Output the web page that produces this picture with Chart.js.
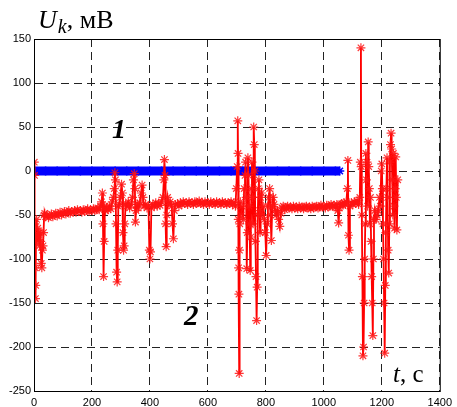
<!DOCTYPE html>
<html>
<head>
<meta charset="utf-8">
<script src="https://cdn.jsdelivr.net/npm/chart.js@4/dist/chart.umd.min.js"></script>
<style>
  body { margin: 0; background: #fff; }
  #wrap { position: relative; width: 457px; height: 407px; }
  .lbl { position: absolute; font-family: 'Liberation Serif', 'Times New Roman', serif; color: #000; line-height: 1; white-space: nowrap; }
  .num { font-weight: bold; font-style: italic; }
</style>
</head>
<body>
<div id="wrap">
  <canvas id="c" width="457" height="407"></canvas>
  <div class="lbl" style="left:38px; top:7px; font-size:26px;"><i>U</i><i style="font-size:20px; position:relative; top:5px; margin-left:1px;">k</i>, мВ</div>
  <div class="lbl" style="left:393px; top:361px; font-size:25px;"><i>t</i>, с</div>
  <div class="lbl num" style="left:112px; top:115px; font-size:28px;">1</div>
  <div class="lbl num" style="left:184px; top:301px; font-size:29px;">2</div>
</div>
<script>
// axis ranges and ticks
const xTicks = [0, 200, 400, 600, 800, 1000, 1200, 1400]
const yTicks = [-250, -200, -150, -100, -50, 0, 50, 100, 150]

// curve 1: flat trace near zero
const tBlue = [0, 40, 80, 120, 160, 200, 240, 280, 320, 360,
               400, 440, 480, 520, 560, 600, 640, 680, 720, 760,
               800, 840, 880, 920, 960, 1000, 1040, 1055]
const uBlue = [0, 0, 0, 0, 0, 0, 0, 0, 0, 0,
               0, 0, 0, 0, 0, 0, 0, 0, 0, 0,
               0, 0, 0, 0, 0, 0, 0, 0]

// curve 2: noisy trace, time in s
const tRed = [
  0, 1, 2, 3, 4, 5, 6, 7, 9, 11,
  13, 15, 17, 19, 21, 23, 25, 27, 29, 31,
  33, 35, 37,
  40, 45, 50, 55, 60, 65, 70, 75, 80, 85,
  90, 95, 100, 105, 110, 115, 120, 125, 130, 135,
  140, 145, 150, 155, 160, 165, 170, 175, 180, 185,
  190, 195, 200, 205, 210, 215, 220, 225, 230,
  233, 236, 238, 240, 242, 244, 247, 250, 255, 260,
  265, 270, 274, 277, 279, 281, 283, 285, 287, 289,
  291, 294, 298, 302, 305, 307, 309, 311, 313, 316,
  320, 325, 330, 335, 340, 343, 346, 348, 350, 352,
  356, 360, 365, 370, 373, 376, 380, 385, 390, 395,
  398, 400, 402, 405, 410, 415, 420, 425, 430, 435,
  440, 445, 448, 450, 452, 454, 456, 458, 461, 465,
  470, 475, 478, 481, 484, 488, 495,
  500, 505, 510, 515, 520, 525, 530, 535, 540, 545,
  550, 555, 560, 565, 570, 575, 580, 585, 590, 595,
  600, 605, 610, 615, 620, 625, 630, 635, 640, 645,
  650, 655, 660, 665, 670, 675, 680, 685, 690, 695,
  698, 701, 703, 704, 705, 706, 707, 708, 709, 710,
  712, 715, 718, 722, 725, 728, 730, 732, 734, 736,
  738, 740, 742, 744, 746, 748, 750, 752, 754, 756,
  758, 760, 762, 764, 766, 768, 770, 772, 774, 776,
  778, 780, 782, 785, 788, 791, 795, 798, 801, 804,
  807, 810, 813, 816, 819, 822, 825, 828, 832, 836,
  840, 844, 848, 852, 856, 860, 865, 870, 875,
  880, 885, 890, 895, 900, 905, 910, 915, 920, 925,
  930, 935, 940, 945, 950, 955, 960, 965, 970, 975,
  980, 985, 990, 995, 1000, 1005, 1010, 1015, 1020, 1025,
  1030, 1035, 1040, 1045, 1048, 1051, 1054, 1058, 1062, 1066,
  1070, 1074, 1078, 1081, 1083, 1085, 1087, 1090, 1095, 1100,
  1105, 1110, 1115, 1120, 1124,
  1126, 1128, 1129, 1131, 1133, 1135, 1137, 1139, 1141, 1143,
  1145, 1147, 1149, 1151, 1153, 1155, 1157, 1159, 1161, 1163,
  1165, 1167, 1169, 1171, 1173, 1176, 1180, 1184, 1188, 1192,
  1195, 1198, 1200, 1202, 1204, 1206, 1208, 1210, 1212, 1214,
  1216, 1218, 1220, 1222, 1224, 1226, 1228, 1230, 1232, 1234,
  1236, 1238, 1240, 1242, 1244, 1246, 1248, 1250, 1252, 1255
]
// curve 2 values, mV
const uRed = [
  -75, 10, -5, -60, -110, -145, -130, -75, -55, -80,
  -65, -75, -70, -85, -70, -80, -105, -110, -90, -85,
  -70, -50, -48,
  -52, -50, -53, -51, -49, -52, -50, -48, -51, -49,
  -47, -50, -48, -46, -49, -47, -45, -48, -46, -47,
  -45, -47, -44, -46, -45, -47, -44, -46, -45, -43,
  -46, -44, -45, -43, -45, -44, -42, -44, -40,
  -35, -25, -60, -120, -80, -40, -45, -42, -44, -40,
  -43, -35, -30, -20, -2, -10, -60, -115, -126, -90,
  -40, -38, -30, -15, -25, -70, -90, -85, -60, -38,
  -40, -35, -42, -38, -30, -10, -3, -20, -58, -45,
  -38, -42, -36, -25, -16, -30, -40, -38, -42, -40,
  -90, -100, -92, -42, -38, -40, -36, -40, -37, -39,
  -35, -30, -10, 13, -5, -60, -86, -50, -30, -38,
  -35, -40, -60, -77, -45, -38, -37,
  -40, -36, -38, -35, -37, -36, -38, -35, -37, -36,
  -38, -35, -37, -36, -34, -37, -36, -38, -35, -37,
  -36, -38, -35, -37, -36, -38, -35, -37, -36, -38,
  -35, -37, -36, -38, -36, -37, -35, -38, -36, -40,
  -20, 5, 57, 20, -55, -110, -140, -230, -90, -60,
  -35, -50, -40, -55, -20, -5, 10, -30, -111, -70,
  15, -5, -40, -60, -113, -75, -20, 10, -30, -60,
  50, 30, 0, -80, -120, -170, -132, -50, -20, -10,
  -45, -70, -30, -25, -50, -40, -55, -70, -96, -60,
  -40, -30, -20, -50, -79, -40, -30, -38, -45, -50,
  -45, -55, -63, -48, -42, -40, -44, -42, -40,
  -42, -41, -43, -40, -42, -41, -43, -40, -42, -41,
  -43, -41, -40, -42, -41, -43, -40, -42, -41, -40,
  -42, -41, -39, -41, -40, -42, -39, -41, -40, -38,
  -40, -39, -41, -38, -45, -59, -42, -38, -37, -39,
  -36, -38, -35, -20, 12, -73, -90, -40, -36, -38,
  -35, -37, -34, -38, -30,
  10, 140, 5, -50, -120, -210, -200, -150, -100, -60,
  20, -10, 10, -40, 33, 5, -20, -60, -30, -80,
  -120, -150, -187, -100, -55, -45, -55, -50, -45, -30,
  -40, 0, 8, -20, -60, -100, -150, -207, -130, -70,
  -20, 15, -30, -90, -116, -60, 10, 30, 43, 25,
  -10, -50, 20, -40, -65, -20, 16, -30, -67, -10
]

const toPoints = (ts, us) => ts.map((t, i) => ({ x: t, y: us[i] }))

// solid frame round the plot area, on top of the dashed grid
const frame = {
  id: 'frame',
  afterDraw(chart) {
    const { ctx, chartArea: a } = chart
    ctx.save()
    ctx.strokeStyle = '#000'
    ctx.lineWidth = 1
    ctx.strokeRect(a.left + 0.5, a.top + 0.5, a.right - a.left, a.bottom - a.top)
    ctx.restore()
  }
}

const tickFont = { family: "'Liberation Sans', Arial, sans-serif", size: 11 }
const grid = {
  color: '#222',
  lineWidth: 1,
  drawTicks: false
}

new Chart(document.getElementById('c'), {
  type: 'line',
  data: {
    datasets: [
      {
        data: toPoints(tRed, uRed),
        borderColor: '#ff0000',
        borderWidth: 1.8,
        pointStyle: 'star',
        pointRadius: 4.5,
        pointBorderColor: 'rgba(255, 20, 20, 0.85)',
        pointBorderWidth: 1.2,
        tension: 0
      },
      {
        data: toPoints(tBlue, uBlue),
        borderColor: '#0000ff',
        borderWidth: 9,
        pointStyle: 'star',
        pointRadius: 4.5,
        pointBorderColor: '#0000ff',
        pointBorderWidth: 1.5,
        tension: 0
      }
    ]
  },
  options: {
    responsive: false,
    animation: false,
    layout: { padding: { top: 39, right: 14, left: 0, bottom: 0 } },
    plugins: {
      legend: { display: false },
      tooltip: { enabled: false }
    },
    scales: {
      x: {
        type: 'linear',
        min: 0,
        max: 1400,
        afterBuildTicks: s => { s.ticks = xTicks.map(v => ({ value: v })) },
        afterFit: s => { s.height = 16 },
        grid,
        border: { display: true, color: '#000', dash: [8, 5] },
        ticks: { color: '#000', font: tickFont, padding: 5, maxRotation: 0, callback: v => String(v) }
      },
      y: {
        min: -250,
        max: 150,
        afterBuildTicks: s => { s.ticks = yTicks.map(v => ({ value: v })) },
        afterFit: s => { s.width = 34 },
        grid,
        border: { display: true, color: '#000', dash: [8, 5] },
        ticks: { color: '#000', font: tickFont, padding: 3, callback: v => String(v) }
      }
    }
  },
  plugins: [frame]
})
</script>
</body>
</html>
